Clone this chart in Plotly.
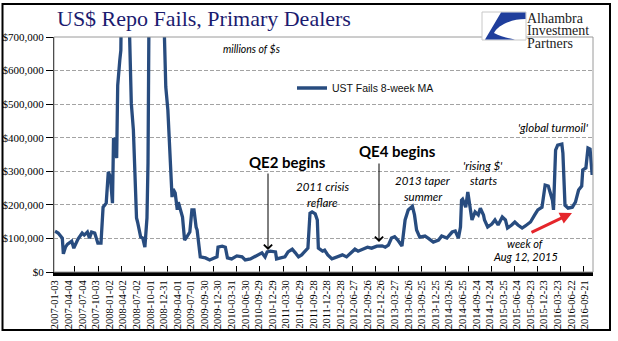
import numpy as np
import pandas as pd
import plotly.graph_objects as go

# ---------------- data ----------------
START = "2007-01-03"
weeks = [0, 3, 7, 8, 10, 12, 16, 18, 22, 26, 28, 31, 33, 35, 38, 41, 44, 46, 49, 51,
         53, 55, 56, 58, 59, 60, 62, 63, 65, 67, 69, 73, 75, 78, 79, 82, 84, 86, 88, 89,
         90, 93, 96, 100, 103, 106, 108, 112, 113, 115, 117, 118, 122, 124, 126, 129, 131, 133, 135, 136,
         139, 144, 148, 151, 155, 156, 160, 163, 165, 169, 174, 179, 182, 187, 191, 194, 198, 201, 203, 206,
         211, 212, 217, 220, 223, 227, 230, 233, 236, 240, 242, 244, 246, 249, 251, 252, 256, 258, 261, 265,
         270, 275, 279, 282, 287, 290, 295, 299, 303, 308, 313, 316, 319, 322, 325, 328, 332, 335, 338, 342,
         344, 346, 349, 354, 357, 362, 367, 370, 375, 380, 383, 386, 388, 389, 390, 393, 395, 397, 399, 402,
         405, 407, 410, 411, 414, 418, 421, 424, 428, 431, 433, 437, 440, 443, 447, 450, 455, 459, 462, 466,
         469, 472, 476, 477, 479, 481, 485, 486, 488, 491, 495, 498, 501, 504, 505, 508, 510, 512, 514]
fails_ma = [122000, 116000, 101000, 54000, 74000, 83000, 92000, 71000, 98000, 116000,
            110000, 119000, 101000, 119000, 116000, 86000, 86000, 193000, 205000, 298000,
            283000, 205000, 399000, 387000, 339000, 556000, 631000, 660000, 1200000, 1250000,
            1000000, 503000, 423000, 161000, 149000, 104000, 101000, 74000, 161000, 324000,
            800000, 2400000, 2600000, 2000000, 900000, 551000, 482000, 223000, 247000, 235000,
            185000, 208000, 164000, 95000, 104000, 119000, 185000, 185000, 134000, 125000,
            45000, 42000, 36000, 39000, 45000, 74000, 77000, 74000, 42000, 39000,
            48000, 45000, 36000, 39000, 45000, 51000, 57000, 45000, 60000, 62000,
            60000, 39000, 42000, 45000, 60000, 68000, 57000, 45000, 51000, 65000,
            71000, 175000, 179000, 173000, 155000, 71000, 62000, 65000, 51000, 39000,
            45000, 51000, 45000, 54000, 68000, 62000, 68000, 74000, 71000, 77000,
            78000, 74000, 80000, 101000, 105000, 95000, 77000, 155000, 185000, 196000,
            170000, 125000, 104000, 107000, 101000, 89000, 95000, 107000, 101000, 119000,
            122000, 101000, 134000, 214000, 217000, 193000, 238000, 190000, 155000, 179000,
            170000, 190000, 170000, 155000, 134000, 143000, 155000, 140000, 164000, 155000,
            131000, 140000, 149000, 140000, 131000, 137000, 149000, 170000, 185000, 193000,
            259000, 256000, 214000, 185000, 363000, 378000, 381000, 354000, 199000, 190000,
            193000, 208000, 244000, 256000, 304000, 310000, 369000, 366000, 289000]
assert len(weeks) == len(fails_ma)

tick_labels = ["2007-01-03", "2007-04-04", "2007-07-04", "2007-10-03", "2008-01-02",
               "2008-04-02", "2008-07-02", "2008-10-01", "2008-12-31", "2009-04-01",
               "2009-07-01", "2009-09-30", "2009-12-30", "2010-03-31", "2010-06-30",
               "2010-09-29", "2010-12-29", "2011-03-30", "2011-06-29", "2011-09-28",
               "2011-12-28", "2012-03-28", "2012-06-27", "2012-09-26", "2012-12-26",
               "2013-03-27", "2013-06-26", "2013-09-25", "2013-12-25", "2014-03-26",
               "2014-06-25", "2014-09-24", "2014-12-24", "2015-03-25", "2015-06-24",
               "2015-09-23", "2015-12-23", "2016-03-23", "2016-06-22", "2016-09-21"]
y_ticks = [0, 100000, 200000, 300000, 400000, 500000, 600000, 700000]
series_name = "UST Fails 8-week MA"

# ---------------- layout geometry ----------------
W, H = 618, 341
L, R, T, B = 54, 593, 37, 272


def xp(px):
    return (px - L) / (R - L)


def yp(py):
    return (B - py) / (B - T)


t0 = pd.Timestamp(START)
dates = t0 + pd.to_timedelta(np.array(weeks) * 7, unit="D")
x_range = [t0 + pd.Timedelta(days=7 * -0.96), t0 + pd.Timedelta(days=7 * 514.8)]

LINE = "#284C7F"
SERIF = "Liberation Serif, Times New Roman, serif"
SANS = "Lato, Liberation Sans, sans-serif"

fig = go.Figure()
fig.add_trace(go.Scatter(x=dates, y=fails_ma, mode="lines", name=series_name,
                         line=dict(color=LINE, width=3.3), showlegend=True))

fig.update_layout(
    width=W, height=H,
    margin=dict(l=L, r=W - R, t=T, b=H - B, pad=0, autoexpand=False),
    paper_bgcolor="white", plot_bgcolor="white",
    showlegend=True,
    legend=dict(x=xp(292), y=yp(88), xanchor="left", yanchor="middle",
                bgcolor="rgba(0,0,0,0)", borderwidth=0,
                font=dict(family="Liberation Sans, Arial, sans-serif", size=10.5, color="#111")),
)

fig.update_xaxes(
    type="date", range=x_range, automargin=False,
    tickmode="array", tickvals=pd.to_datetime(tick_labels), ticktext=tick_labels,
    tickangle=-90, ticks="", showgrid=False,
    showline=True, linecolor="black", linewidth=4,
    tickfont=dict(family=SERIF, size=10.5, color="black"),
    minor=dict(ticks="inside", ticklen=6, tickwidth=1, tickcolor="black",
               tick0=t0 + pd.Timedelta(days=7 * 19), dtick=155 * 86400000, showgrid=False),
)
fig.update_yaxes(
    range=[0, 700000], automargin=False, tickmode="array", tickvals=y_ticks, tickformat="$,.0f",
    ticks="outside", ticklen=7, tickcolor="black", tickwidth=1,
    showline=True, linecolor="black", linewidth=1,
    showgrid=True, gridcolor="#a3a3a3", gridwidth=1, griddash="4px,2px",
    zeroline=False,
    tickfont=dict(family=SERIF, size=11, color="black"),
)

shapes = []
# plot area top/right border
shapes.append(dict(type="rect", xref="paper", yref="paper", x0=0, x1=1, y0=0, y1=1,
                   line=dict(color="#9a9a9a", width=1)))
# outer frame
shapes.append(dict(type="rect", xref="paper", yref="paper", x0=xp(2.5), x1=xp(610),
                   y0=yp(330), y1=yp(4), line=dict(color="black", width=2)))
# logo box
shapes.append(dict(type="rect", xref="paper", yref="paper", x0=xp(482), x1=xp(526),
                   y0=yp(40), y1=yp(12), fillcolor="white", line=dict(color="#c8c8c8", width=1)))


def P(x, y):
    return f"{xp(x):.5f},{yp(y):.5f}"


logo_path = (f"M{P(485, 39.5)} L{P(501, 12.5)} L{P(525.5, 12.5)} L{P(525.5, 19)} "
             f"C{P(510, 19)} {P(497, 26)} {P(494, 33)} C{P(500, 36)} {P(508, 38.5)} {P(515, 39.5)} Z")
shapes.append(dict(type="path", xref="paper", yref="paper", path=logo_path,
                   fillcolor="#1f3e9c", line=dict(width=0)))
fig.update_layout(shapes=shapes)

ann = []


def text(x, y, s, size=11, italic=False, bold=False, family=SANS, color="black", xanchor="center"):
    ann.append(dict(x=xp(x), y=yp(y), xref="paper", yref="paper", text=s, showarrow=False,
                    xanchor=xanchor, yanchor="middle", borderpad=0,
                    font=dict(family=family, size=size, color=color,
                              style="italic" if italic else "normal",
                              weight="bold" if bold else "normal")))


text(56, 19, "US$ Repo Fails, Primary Dealers", size=22, family=SERIF, color="#1b1b6f", xanchor="left")
text(526, 18, "Alhambra", size=14, family=SERIF, color="#222", xanchor="left")
text(526, 30.5, "Investment", size=14, family=SERIF, color="#222", xanchor="left")
text(526, 43, "Partners", size=14, family=SERIF, color="#222", xanchor="left")
text(251, 49, "millions of $s", size=10.5, italic=True)
text(287, 161.5, "QE2 begins", size=15, bold=True)
text(397, 151, "QE4 begins", size=15, bold=True)
text(322, 186, "2011 crisis", size=11.5, italic=True)
text(322, 202, "reflare", size=11.5, italic=True)
text(423, 180, "2013 taper", size=11.5, italic=True)
text(423, 196, "summer", size=11.5, italic=True)
text(483, 165, "'rising $'", size=11.5, italic=True)
text(483, 180, "starts", size=11.5, italic=True)
text(553, 127, "'global turmoil'", size=11.5, italic=True)
text(525, 243, "week of", size=11, italic=True)
text(525, 256, "Aug 12, 2015", size=11, italic=True)


def arrow(hx, hy, tx, ty, color="black", width=1, head=4, size=1.6):
    ann.append(dict(x=xp(hx), y=yp(hy), xref="paper", yref="paper", text="",
                    showarrow=True, ax=tx - hx, ay=ty - hy, arrowcolor=color,
                    arrowwidth=width, arrowhead=head, arrowsize=size, standoff=0, startstandoff=0))


arrow(268, 250, 268, 172)
arrow(379, 242, 379, 162)
arrow(572, 213, 530, 233, color="#e5262b", width=3, head=2, size=0.8)

fig.update_layout(annotations=ann)
fig.write_html("out.html")
